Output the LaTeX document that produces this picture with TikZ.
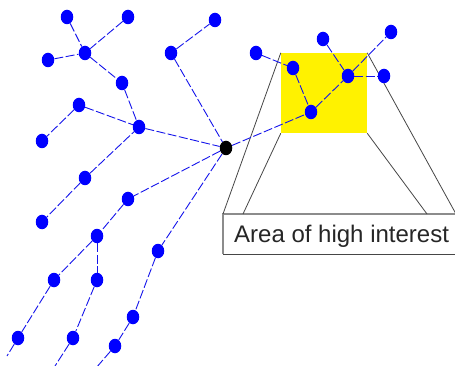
\documentclass[tikz,border=0pt]{standalone}
\usepackage{fontspec}
\setmainfont{Liberation Sans}
\usetikzlibrary{shapes.geometric}
\definecolor{edgeblue}{RGB}{20,20,235}
\definecolor{frame}{RGB}{70,70,70}
\definecolor{boxgrey}{RGB}{140,140,140}
\begin{document}
\begin{tikzpicture}[x=1pt,y=-1pt,
  dot/.style={ellipse,fill=blue,draw=none,inner sep=0pt,minimum width=12.5pt,minimum height=14.5pt},
  hub/.style={dot,fill=black},
  link/.style={draw=edgeblue,line width=0.9pt,dash pattern=on 9pt off 2.5pt},
  zoomline/.style={draw=frame,line width=0.8pt}]
\useasboundingbox (0,0) rectangle (455,366);
% highlighted area
\node[fill=yellow,draw=none,minimum width=86pt,minimum height=80pt,inner sep=0pt] (hl) at (324,93) {};
% box
\coordinate (btl) at (223,214);
\coordinate (btr) at (456,214);
\coordinate (bbl) at (223,254);
\coordinate (bbr) at (456,254);
\coordinate (il) at (243,214);
\coordinate (ir) at (427,214);
\draw[boxgrey,line width=1.4pt] (bbl) -- (btl) -- (btr);
\draw[frame,line width=1pt] (bbl) -- (bbr);
\node[anchor=base west,inner sep=0pt,text=black!85,font=\fontsize{24}{28}\selectfont] (lbl) at (234,243) {Area of high interest};
\draw[zoomline] (hl.north west) -- (btl);
\draw[zoomline] (hl.south west) -- (il);
\draw[zoomline] (hl.north east) -- (btr);
\draw[zoomline] (hl.south east) -- (ir);
% nodes
\node[dot] (A) at (67,17) {};
\node[dot] (B) at (128,17) {};
\node[dot] (C) at (85,53) {};
\node[dot] (D) at (48,60) {};
\node[dot] (E) at (122,83) {};
\node[dot] (F) at (139,127) {};
\node[dot] (G) at (79,105) {};
\node[dot] (H) at (42,141) {};
\node[dot] (I) at (171,53) {};
\node[dot] (J) at (215,20) {};
\node[hub] (K) at (226,148) {};
\node[dot] (L) at (85,178) {};
\node[dot] (M) at (42,222) {};
\node[dot] (N) at (128,199) {};
\node[dot] (O) at (97,236) {};
\node[dot] (P) at (54,280) {};
\node[dot] (Q) at (97,280) {};
\node[dot] (R) at (18,338) {};
\node[dot] (S) at (73,338) {};
\node[dot] (T) at (158,251) {};
\node[dot] (U) at (133,317) {};
\node[dot] (V) at (115,346) {};
\node[dot] (W) at (256,53) {};
\node[dot] (X) at (293,68) {};
\node[dot] (Y) at (311,112) {};
\node[dot] (Z) at (323,39) {};
\node[dot] (AA) at (348,76) {};
\node[dot] (AB) at (391,32) {};
\node[dot] (AC) at (384,76) {};
\coordinate (r1) at (7,356);
\coordinate (s1) at (55,366);
\coordinate (v1) at (96,368);
% connectors
\foreach \a/\b in {A/C,B/C,D/C,C/E,E/F,G/F,G/H,F/K,I/J,I/K,L/F,L/M,K/N,N/O,O/P,O/Q,P/R,R/r1,Q/S,S/s1,K/T,T/U,U/V,V/v1,K/Y,W/X,X/Y,Y/AA,Z/AA,AA/AB,AA/AC}
  \draw[link] (\a) -- (\b);
\end{tikzpicture}
\end{document}
